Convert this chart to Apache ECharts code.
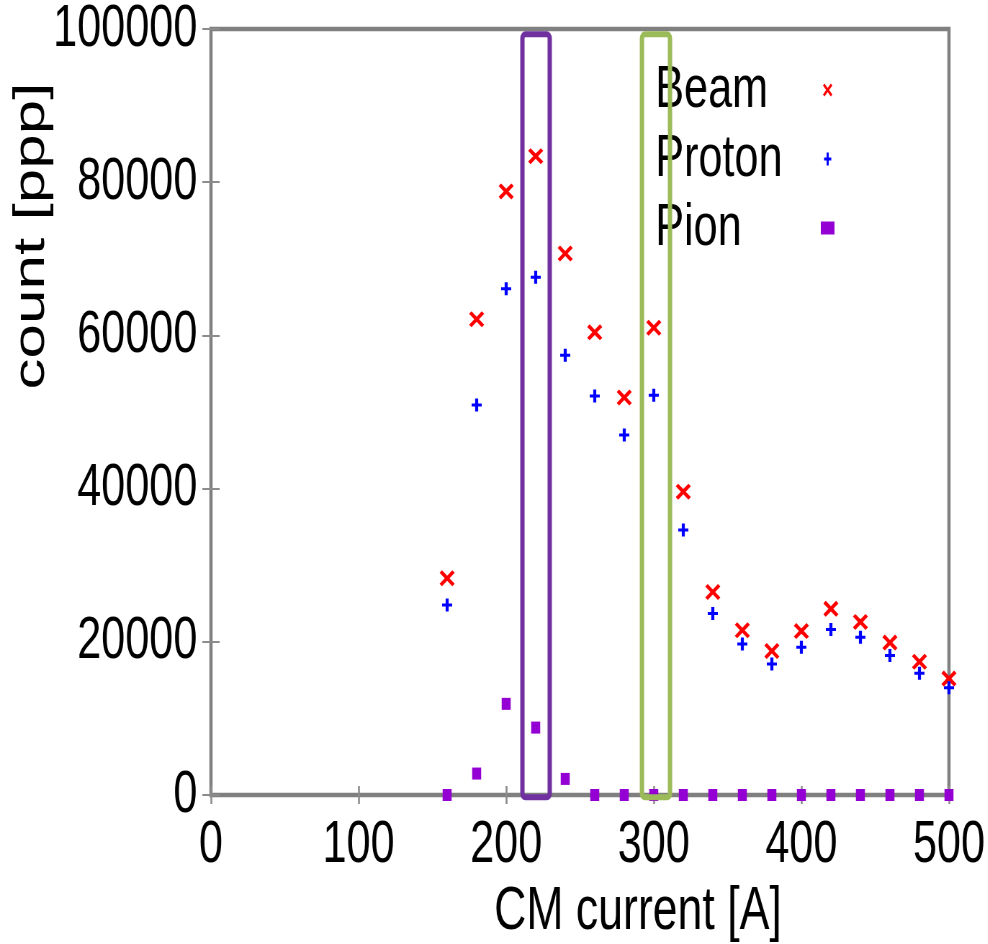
<!DOCTYPE html>
<html>
<head>
<meta charset="UTF-8">
<title>CM current scan</title>
<script src="https://cdn.jsdelivr.net/npm/echarts@6/dist/echarts.min.js"></script>
<style>
  html, body { margin: 0; padding: 0; background: #fff; overflow: hidden; }
  #wrap { width: 988px; height: 944px; overflow: hidden; }
  /* the original figure is squeezed horizontally, so draw wide and squeeze */
  #chart { width: 1372px; height: 944px; transform: scaleX(0.72); transform-origin: 0 0; }
</style>
</head>
<body>
<div id="wrap"><div id="chart"></div></div>
<script>
// CM current [A]
let currents = [160, 180, 200, 220, 240, 260, 280, 300, 320, 340, 360, 380, 400, 420, 440, 460, 480, 500];
// counts [ppp]
let beam   = [28300, 62100, 78800, 83400, 70700, 60400, 51900, 61000, 39600, 26500, 21500, 18800, 21400, 24300, 22600, 19900, 17400, 15200];
let proton = [24800, 50900, 66100, 67600, 57400, 52100, 47000, 52200, 34600, 23700, 19700, 17100, 19300, 21600, 20600, 18200, 15900, 14000];
let pion   = [0, 2800, 11900, 8800, 2100, 0, 0, 0, 0, 0, 0, 0, 0, 0, 0, 0, 0, 0];

// highlight boxes (x range in A, y range in ppp)
let boxX = [[211, 229.5], [292, 311]];
let boxY = [-300, 99300];
let boxColors = ['#7030A0', '#9BBB59'];

const FONT = '"Liberation Sans", Arial, sans-serif';
const X_MARK = 'path://M0,1.6L1.6,0L5,3.4L8.4,0L10,1.6L6.6,5L10,8.4L8.4,10L5,6.6L1.6,10L0,8.4L3.4,5Z';
const PLUS = 'path://M3.5,0H6.5V5H10V8H6.5V13H3.5V8H0V5H3.5Z';

function pairs(ys) {
    return currents.map((x, i) => [x, ys[i]]);
}

let chart = echarts.init(document.getElementById('chart'));

let xTick = { show: true, inside: true, length: 9, lineStyle: { color: '#8c8c8c', width: 2.6 } };
let yTick = { show: true, inside: true, length: 12, lineStyle: { color: '#8c8c8c', width: 2 } };

let option = {
    animation: false,
    backgroundColor: '#fff',
    grid: {
        left: 293, top: 29, right: 54, bottom: 149,
        outerBoundsMode: 'none',
        containLabel: false,
        show: true, borderColor: '#808080', borderWidth: 4.5
    },
    legend: {
        orient: 'vertical',
        left: 905,
        top: 55,
        align: 'right',
        itemGap: 9,
        itemWidth: 19,
        itemHeight: 13,
        formatter: '{a|{name}}',
        textStyle: {
            rich: {
                a: { width: 225, align: 'left', fontSize: 60, lineHeight: 60, fontFamily: FONT, color: '#000' }
            }
        },
        data: ['Beam', 'Proton', 'Pion']
    },
    xAxis: [
        {
            type: 'value', min: 0, max: 500, interval: 100,
            axisLine: { show: false },
            axisTick: xTick,
            splitLine: { show: false },
            axisLabel: { fontSize: 60, lineHeight: 60, fontFamily: FONT, color: '#000', margin: 20 },
            name: 'CM current [A]',
            nameLocation: 'middle',
            nameGap: 87,
            nameTextStyle: { fontSize: 62, lineHeight: 60, fontFamily: FONT, color: '#000', padding: [0, 0, 0, 161] }
        },
        {
            type: 'value', position: 'top', min: 0, max: 500, interval: 100,
            axisLine: { show: false }, axisTick: xTick, axisLabel: { show: false }, splitLine: { show: false }
        }
    ],
    yAxis: [
        {
            type: 'value', min: 0, max: 100000, interval: 20000,
            axisLine: { show: false },
            axisTick: yTick,
            splitLine: { show: false },
            axisLabel: { fontSize: 60, fontFamily: FONT, color: '#000', margin: 19, formatter: v => String(v) }
        },
        {
            type: 'value', position: 'right', min: 0, max: 100000, interval: 20000,
            axisLine: { show: false }, axisTick: yTick, axisLabel: { show: false }, splitLine: { show: false }
        }
    ],
    series: [
        {
            name: 'Beam', type: 'scatter', data: pairs(beam), clip: false,
            symbol: X_MARK, symbolSize: [21, 16],
            itemStyle: { color: '#FF0000', opacity: 1 }
        },
        {
            name: 'Proton', type: 'scatter', data: pairs(proton), clip: false,
            symbol: PLUS, symbolSize: [14, 13],
            itemStyle: { color: '#0000FF', opacity: 1 }
        },
        {
            name: 'Pion', type: 'scatter', data: pairs(pion), clip: false,
            symbol: 'rect', symbolSize: [12.5, 12],
            itemStyle: { color: '#9400D3', opacity: 1 }
        }
    ]
};
chart.setOption(option);

// y axis title + highlight boxes
let graphics = [{
    type: 'text',
    x: 44, y: 236,
    rotation: Math.PI / 2,
    z: 100,
    style: {
        text: 'count [ppp]',
        font: '62px "Liberation Sans", Arial, sans-serif',
        fill: '#000',
        textAlign: 'center',
        textVerticalAlign: 'middle'
    }
}];
boxX.forEach((r, i) => {
    let p0 = chart.convertToPixel({ gridIndex: 0 }, [r[0], boxY[1]]);
    let p1 = chart.convertToPixel({ gridIndex: 0 }, [r[1], boxY[0]]);
    graphics.push({
        type: 'rect',
        z: 100,
        shape: { x: p0[0], y: p0[1], width: p1[0] - p0[0], height: p1[1] - p0[1], r: 4 },
        style: { fill: 'none', stroke: boxColors[i], lineWidth: 6 }
    });
});
chart.setOption({ graphic: graphics });
</script>
</body>
</html>
